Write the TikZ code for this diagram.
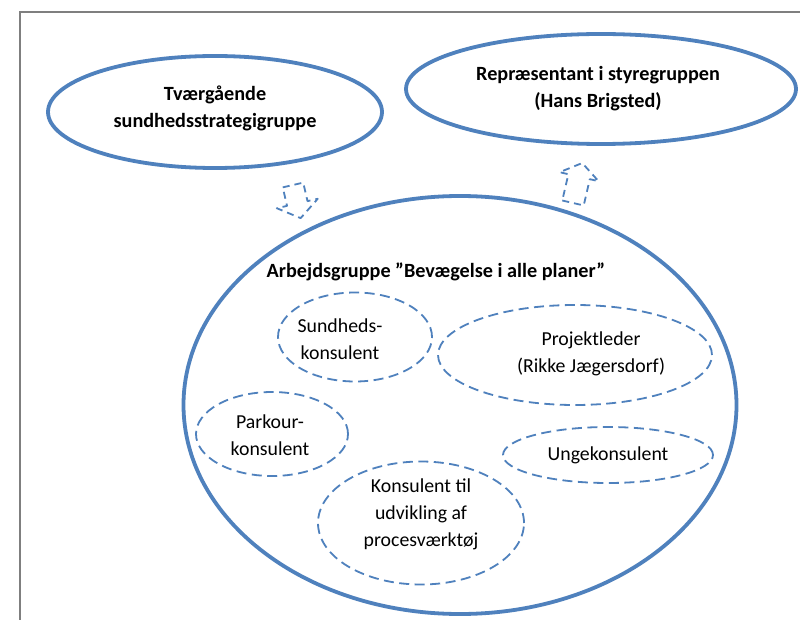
\documentclass[tikz,border=0pt]{standalone}
\usepackage{fontspec}
\setmainfont{Carlito}
\usetikzlibrary{shapes.geometric}
\definecolor{ob}{HTML}{4F81BD}
\definecolor{framegray}{HTML}{7F7F7F}
\begin{document}
\begin{tikzpicture}[x=1pt,y=-1pt,
  solidell/.style={ellipse,draw=ob,line width=3.8pt,inner sep=0pt},
  dashell/.style={ellipse,draw=ob,line width=1.8pt,dash pattern=on 10pt off 5.5pt,inner sep=0pt},
  lbl/.style={font=\fontsize{19.8}{27}\selectfont,align=center,text=black,inner sep=0pt},
  blbl/.style={lbl,font=\fontsize{20.2}{27}\selectfont\bfseries},
  blockarrow/.style={draw=ob,line width=1.8pt,dash pattern=on 7pt off 5pt,line join=round}
]
\useasboundingbox (0,0) rectangle (800,620);
\fill[white] (0,0) rectangle (800,620);
% frame
\draw[framegray,line width=2.6pt] (20,625) -- (20,12) -- (805,12);

% top ellipses
\node[solidell,minimum width=334pt,minimum height=112pt] (tv) at (215,112) {};
\node[blbl] (tvt) at (215,108.5) {Tværgående\\sundhedsstrategigruppe};
\node[solidell,minimum width=390pt,minimum height=110pt] (rep) at (601,89) {};
\node[blbl] (rept) at (598,88.5) {Repræsentant i styregruppen\\(Hans Brigsted)};

% big circle
\node[solidell,minimum width=553pt,minimum height=418pt] (ag) at (460,405) {};
\node[blbl] (agt) at (436,272) {Arbejdsgruppe ”Bevægelse i alle planer”};

% dashed ellipses
\node[dashell,minimum width=154pt,minimum height=89pt] (sk) at (355,337) {};
\node[lbl] (skt) at (340,339) {Sundheds-\\konsulent};
\node[dashell,minimum width=274pt,minimum height=100pt] (pl) at (575,355) {};
\node[lbl] (plt) at (591,354) {Projektleder\\(Rikke Jægersdorf)};
\node[dashell,minimum width=152pt,minimum height=84pt] (pk) at (272,434) {};
\node[lbl] (pkt) at (270,435.5) {Parkour-\\konsulent};
\node[dashell,minimum width=210pt,minimum height=56pt] (uk) at (608,455) {};
\node[lbl] (ukt) at (608,455) {Ungekonsulent};
\node[dashell,minimum width=206pt,minimum height=123pt] (kt) at (421,523) {};
\node[lbl] (ktt) at (421,514) {Konsulent til\\udvikling af\\procesværktøj};

% block arrows
\coordinate (da) at (293,185);
\begin{scope}[shift={(da)},rotate=13]
  \draw[blockarrow] (-10.5,0) -- (10.5,0) -- (10.5,19) -- (21,19) -- (0,34) -- (-21,19) -- (-10.5,19) -- cycle;
\end{scope}
\coordinate (ua) at (573,203);
\begin{scope}[shift={(ua)},rotate=-13]
  \draw[blockarrow] (-11,0) -- (11,0) -- (11,-27) -- (20,-27) -- (0,-41) -- (-20,-27) -- (-11,-27) -- cycle;
\end{scope}
\end{tikzpicture}
\end{document}
